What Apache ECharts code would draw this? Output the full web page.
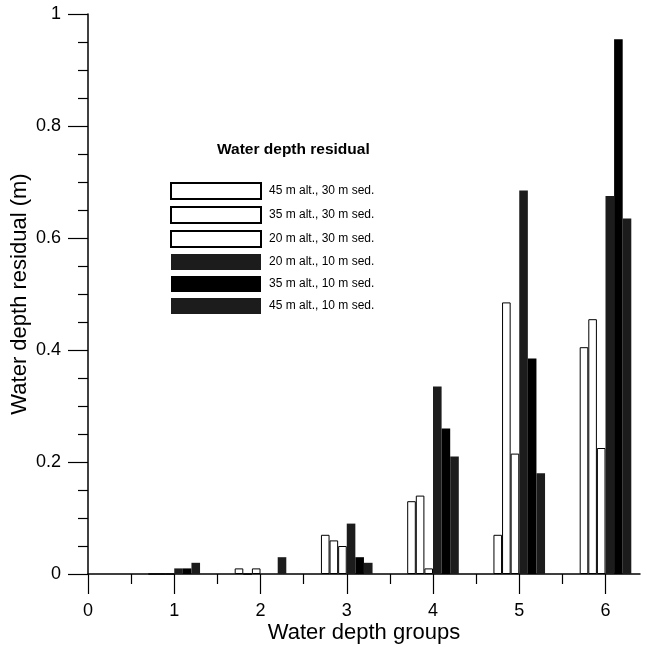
<!DOCTYPE html>
<html>
<head>
<meta charset="utf-8">
<script src="https://cdn.jsdelivr.net/npm/echarts@6/dist/echarts.min.js"></script>
<style>
  html, body { margin: 0; padding: 0; background: #fff; }
  #chart { width: 647px; height: 647px; }
</style>
</head>
<body>
<div id="chart"></div>
<script>
// groups on the x axis
var groups = [1, 2, 3, 4, 5, 6];
var xMajorTicks = [0, 1, 2, 3, 4, 5, 6];
var xMinorTicks = [0.5, 1.5, 2.5, 3.5, 4.5, 5.5];

// residuals (m) per series
var alt45sed30 = [0, 0.01, 0.07, 0.13, 0.07, 0.405];
var alt35sed30 = [0, 0, 0.06, 0.14, 0.485, 0.455];
var alt20sed30 = [0, 0.01, 0.05, 0.01, 0.215, 0.225];
var alt20sed10 = [0.01, 0, 0.09, 0.335, 0.685, 0.675];
var alt35sed10 = [0.01, 0, 0.03, 0.26, 0.385, 0.955];
var alt45sed10 = [0.02, 0.03, 0.02, 0.21, 0.18, 0.635];

var seriesNames = [
  "45 m alt., 30 m sed.",
  "35 m alt., 30 m sed.",
  "20 m alt., 30 m sed.",
  "20 m alt., 10 m sed.",
  "35 m alt., 10 m sed.",
  "45 m alt., 10 m sed."
];
var seriesValues = [alt45sed30, alt35sed30, alt20sed30, alt20sed10, alt35sed10, alt45sed10];

var white = { color: "#fff", borderColor: "#000", borderWidth: 1 };
var styles = [
  white, white, white,
  { color: "#1c1c1c" },
  { color: "#000" },
  { color: "#1c1c1c" }
];

var font = "Liberation Sans, Arial, Helvetica, sans-serif";

var chart = echarts.init(document.getElementById("chart"));

var series = seriesValues.map(function (vals, i) {
  return {
    name: seriesNames[i],
    type: "bar",
    xAxisIndex: 0,
    barWidth: 8.6,
    barGap: "0%",
    itemStyle: styles[i],
    data: groups.map(function (g, j) { return [g, vals[j]]; })
  };
});

chart.setOption({
  animation: false,
  title: {
    text: "Water depth residual",
    left: 212,
    top: 137,
    textStyle: { fontFamily: font, fontSize: 15.5, fontWeight: "bold", color: "#000" }
  },
  legend: {
    orient: "vertical",
    left: 165,
    top: 177,
    itemWidth: 90,
    itemHeight: 16,
    itemGap: 6,
    icon: "rect",
    data: seriesNames,
    textStyle: { fontFamily: font, fontSize: 12, color: "#000", padding: [0, 0, 0, 3] }
  },
  grid: { left: 88, right: 7, top: 14, bottom: 73, outerBoundsMode: "none", containLabel: false },
  xAxis: [
    {
      type: "value",
      min: 0,
      max: 6.4,
      name: "Water depth groups",
      nameLocation: "middle",
      nameGap: 48,
      nameMoveOverlap: false,
      nameTextStyle: { fontFamily: font, fontSize: 22, color: "#000" },
      axisLine: { show: true, onZero: false, lineStyle: { color: "#000", width: 1.5 } },
      axisTick: { show: true, length: 20, customValues: xMajorTicks, lineStyle: { color: "#000", width: 1.2 } },
      axisLabel: { customValues: xMajorTicks, margin: 28, fontFamily: font, fontSize: 18, color: "#000" },
      splitLine: { show: false }
    },
    {
      // minor ticks only
      type: "value",
      min: 0,
      max: 6.4,
      position: "bottom",
      axisLine: { show: false },
      axisTick: { show: true, length: 10, customValues: xMinorTicks, lineStyle: { color: "#000", width: 1.2 } },
      axisLabel: { show: false },
      splitLine: { show: false }
    }
  ],
  yAxis: {
    type: "value",
    min: 0,
    max: 1,
    interval: 0.2,
    name: "Water depth residual (m)",
    nameLocation: "middle",
    nameGap: 57,
    nameMoveOverlap: false,
    nameTextStyle: { fontFamily: font, fontSize: 22, color: "#000" },
    axisLine: { show: true, lineStyle: { color: "#000", width: 1.5 } },
    axisTick: { show: true, length: 20, lineStyle: { color: "#000", width: 1.2 } },
    minorTick: { show: true, splitNumber: 4, length: 10, lineStyle: { color: "#000", width: 1.2 } },
    axisLabel: { margin: 27, fontFamily: font, fontSize: 18, color: "#000" },
    splitLine: { show: false }
  },
  series: series
});
</script>
</body>
</html>
